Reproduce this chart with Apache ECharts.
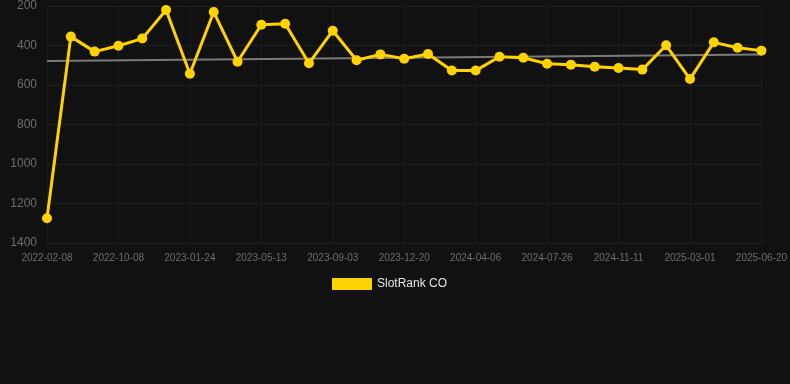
<!DOCTYPE html>
<html>
  <head>
    <title></title>
    <meta charset="UTF-8" />
    <script src="https://cdn.jsdelivr.net/npm/echarts@6/dist/echarts.min.js"></script>
    <style>
      html, body { margin: 0; padding: 0; background: #111111; }
    </style>
  </head>
  <body>
    <div id="main"></div>
    <script>
      const width = 790;
      const height = 384;
      const main = document.getElementById('main');
      main.style.width = `${width}px`;
      main.style.height = `${height}px`;

      // only every third date is shown on the axis
      const dates = [
        '2022-02-08', '2022-05-10', '2022-08-09',
        '2022-10-08', '2022-11-14', '2022-12-19',
        '2023-01-24', '2023-02-28', '2023-04-06',
        '2023-05-13', '2023-06-18', '2023-07-27',
        '2023-09-03', '2023-10-08', '2023-11-14',
        '2023-12-20', '2024-01-24', '2024-03-01',
        '2024-04-06', '2024-05-12', '2024-06-19',
        '2024-07-26', '2024-08-31', '2024-10-06',
        '2024-11-11', '2024-12-17', '2025-01-23',
        '2025-03-01', '2025-04-08', '2025-05-14',
        '2025-06-20'
      ];

      const rank = [
        1275, 355, 431, 401, 365, 220, 543, 230, 482, 295, 290,
        490, 325, 475, 445, 467, 443, 527, 527, 457, 462, 492,
        497, 507, 514, 522, 399, 570, 384, 411, 426
      ];

      // trend line, start and end
      const trendStart = 478;
      const trendEnd = 445;

      const trend = dates.map((d, i) =>
        i === 0 ? trendStart : i === dates.length - 1 ? trendEnd : null
      );

      const myChart = echarts.init(main);
      const option = {
        backgroundColor: '#111111',
        animation: false,
        grid: {
          left: 47,
          right: 28,
          top: 6,
          bottom: 141,
        },
        legend: {
          data: ['SlotRank CO'],
          top: 273,
          left: 327,
          itemWidth: 40,
          itemHeight: 12,
          itemGap: 10,
          icon: 'rect',
          textStyle: { color: '#e6e6e6', fontSize: 12 },
        },
        xAxis: {
          type: 'category',
          data: dates,
          boundaryGap: false,
          axisLine: { show: false },
          axisTick: { show: false },
          axisLabel: {
            interval: 2,
            color: '#6e6e6e',
            fontSize: 10,
            margin: 10,
          },
          splitLine: {
            show: true,
            interval: 2,
            lineStyle: { color: '#1c1c1c', width: 1 },
          },
        },
        yAxis: {
          type: 'value',
          inverse: true,
          min: 200,
          max: 1400,
          interval: 200,
          axisLine: { show: false },
          axisTick: { show: false },
          axisLabel: {
            color: '#6e6e6e',
            fontSize: 12,
            margin: 10,
            formatter: (v) => String(v),
          },
          splitLine: {
            lineStyle: { color: '#1f1f1f', width: 1 },
          },
        },
        series: [
          {
            name: 'trend',
            type: 'line',
            data: trend,
            connectNulls: true,
            showSymbol: false,
            lineStyle: { color: '#7a7a7a', width: 2 },
            z: 1,
          },
          {
            name: 'SlotRank CO',
            type: 'line',
            data: rank,
            symbol: 'circle',
            symbolSize: 10,
            itemStyle: { color: '#FFD200' },
            lineStyle: { color: '#FFD200', width: 3 },
            z: 2,
          },
        ],
      };
      myChart.setOption(option);
    </script>
  </body>
</html>
